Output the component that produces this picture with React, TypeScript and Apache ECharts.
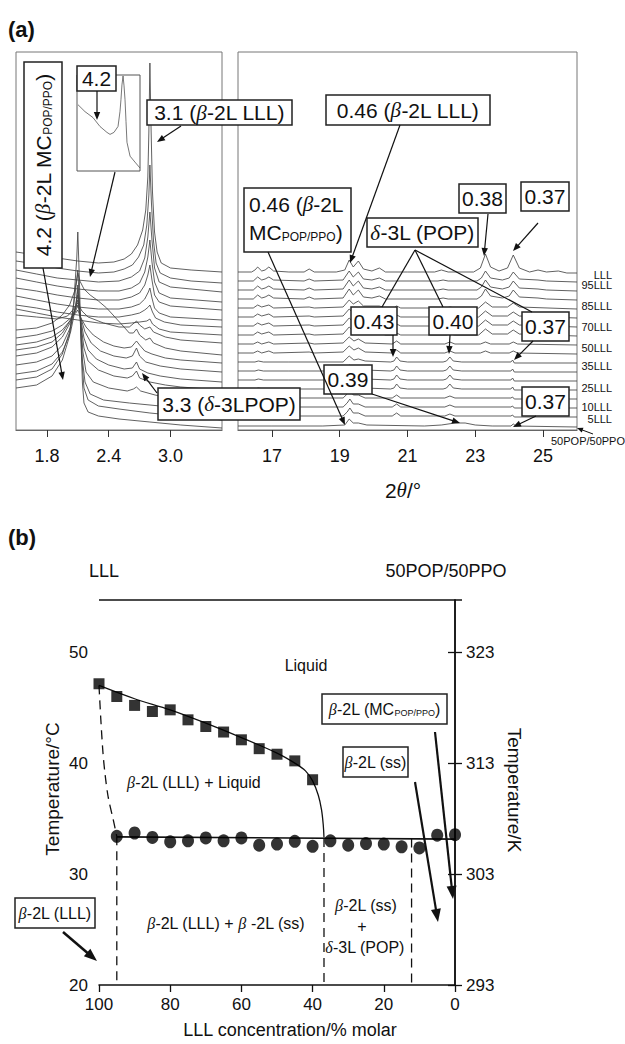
import React, { useEffect, useRef } from "react";
import * as echarts from "echarts";

// ================= Panel (a) data =================
const saxsTicks = [1.8, 2.4, 3.0];
const waxsTicks = [17, 19, 21, 23, 25];
const traceNames = ["LLL", "95LLL", "85LLL", "70LLL", "50LLL", "35LLL", "25LLL", "10LLL", "5LLL"];
const traceNameY = [275, 285, 306, 327, 348, 366, 388, 407, 419];

// SAXS traces (2θ, intensity above own baseline), stacked by offsets
const saxsOffsets = [158, 147, 138, 128, 120, 110, 103, 95, 87, 75, 67, 58, 48, 40, 28, 18, 10, 2];
const saxsT0 = [[1.5,20],[1.7,17],[1.9,14],[2.1,11],[2.3,9],[2.45,10],[2.55,13],[2.62,18],[2.68,27],[2.73,42],[2.76,62],[2.78,95],[2.79,140],[2.8,209],[2.81,150],[2.825,80],[2.845,40],[2.87,20],[2.91,9],[3.0,4],[3.2,2],[3.5,0]];
const saxsT1 = [[1.5,22],[1.7,19],[1.9,15],[2.1,12],[2.3,10],[2.45,11],[2.55,14],[2.63,18],[2.69,26],[2.74,38],[2.77,58],[2.79,88],[2.8,118],[2.815,80],[2.835,42],[2.86,20],[2.9,10],[3.0,5],[3.2,2],[3.5,0]];
const saxsT2 = [[1.5,22],[1.7,18],[1.9,14],[2.1,12],[2.3,10],[2.5,11],[2.62,15],[2.7,21],[2.75,34],[2.78,55],[2.8,80],[2.82,52],[2.845,24],[2.89,10],[3.0,5],[3.5,0]];
const saxsT3 = [[1.5,24],[1.7,20],[1.9,16],[2.1,13],[2.3,11],[2.5,11],[2.62,14],[2.7,19],[2.75,30],[2.78,45],[2.8,62],[2.82,40],[2.845,20],[2.89,9],[3.0,4],[3.5,0]];
const saxsT4 = [[1.5,22],[1.7,19],[1.9,15],[2.1,12],[2.3,10],[2.5,10],[2.62,13],[2.7,17],[2.75,25],[2.78,35],[2.8,45],[2.82,30],[2.845,15],[2.89,8],[3.0,4],[3.5,0]];
const saxsT5 = [[1.5,24],[1.7,20],[1.9,16],[2.1,13],[2.3,11],[2.5,11],[2.62,13],[2.7,16],[2.75,21],[2.785,28],[2.8,32],[2.82,22],[2.845,12],[2.89,7],[3.0,3],[3.5,0]];
const saxsT6 = [[1.5,22],[1.7,19],[1.9,15],[2.1,12],[2.3,10],[2.5,10],[2.62,12],[2.7,14],[2.75,17],[2.785,20],[2.8,22],[2.825,15],[2.855,9],[2.94,5],[3.1,2],[3.5,0]];
const saxsT7 = [[1.5,26],[1.7,22],[1.9,18],[2.1,15],[2.3,12],[2.5,11],[2.62,12],[2.7,13],[2.77,14],[2.8,16],[2.825,11],[2.89,6],[3.0,3],[3.5,0]];
const saxsT8 = [[1.5,28],[1.7,26],[1.9,24],[2.0,27],[2.06,34],[2.1,40],[2.14,32],[2.2,26],[2.35,20],[2.5,16],[2.6,16],[2.67,22],[2.7,18],[2.75,14],[2.8,16],[2.835,11],[2.95,6],[3.1,3],[3.5,0]];
const saxsT9 = [[1.5,25],[1.7,27],[1.85,32],[1.95,40],[2.02,50],[2.07,64],[2.1,82],[2.12,74],[2.16,66],[2.22,60],[2.3,54],[2.38,47],[2.46,38],[2.54,29],[2.6,22],[2.64,22],[2.67,26],[2.7,20],[2.76,15],[2.8,17],[2.835,12],[2.95,7],[3.1,4],[3.5,0]];
const saxsT10 = [[1.5,25],[1.7,28],[1.85,32],[1.95,38],[2.03,45],[2.08,50],[2.1,53],[2.13,45],[2.18,36],[2.25,28],[2.35,21],[2.45,17],[2.55,15],[2.62,16],[2.67,22],[2.7,18],[2.75,12],[2.82,9],[2.95,5],[3.1,3],[3.5,0]];
const saxsT11 = [[1.5,27],[1.7,30],[1.85,35],[1.95,42],[2.03,52],[2.08,61],[2.1,67],[2.13,54],[2.17,40],[2.23,29],[2.32,21],[2.45,16],[2.57,14],[2.63,16],[2.67,24],[2.7,16],[2.76,10],[2.9,6],[3.1,3],[3.5,0]];
const saxsT12 = [[1.5,32],[1.7,35],[1.85,40],[1.95,49],[2.03,62],[2.08,74],[2.1,82],[2.13,62],[2.16,44],[2.2,32],[2.28,23],[2.4,17],[2.55,13],[2.63,14],[2.67,20],[2.7,13],[2.78,9],[2.9,6],[3.1,3],[3.5,0]];
const saxsT13 = [[1.5,34],[1.7,37],[1.85,43],[1.95,53],[2.03,68],[2.08,84],[2.1,95],[2.13,66],[2.16,42],[2.2,29],[2.3,20],[2.45,14],[2.58,12],[2.63,14],[2.67,19],[2.7,12],[2.8,8],[2.95,5],[3.1,3],[3.5,0]];
const saxsT14 = [[1.5,37],[1.7,40],[1.85,46],[1.95,57],[2.03,75],[2.08,96],[2.1,112],[2.125,84],[2.15,50],[2.18,30],[2.25,20],[2.4,14],[2.58,11],[2.64,13],[2.67,15],[2.71,11],[2.85,7],[3.0,4],[3.5,0]];
const saxsT15 = [[1.5,38],[1.7,41],[1.85,48],[1.95,60],[2.03,80],[2.08,105],[2.1,127],[2.125,92],[2.145,52],[2.17,30],[2.22,18],[2.35,12],[2.6,9],[2.9,6],[3.2,3],[3.5,0]];
const saxsT16 = [[1.5,40],[1.7,43],[1.85,51],[1.95,66],[2.02,88],[2.06,115],[2.09,140],[2.1,150],[2.12,110],[2.14,60],[2.16,32],[2.2,20],[2.3,14],[2.5,11],[2.8,7],[3.1,4],[3.5,0]];
const saxsT17 = [[1.5,40],[1.7,43],[1.85,52],[1.95,68],[2.02,92],[2.06,125],[2.09,170],[2.1,196],[2.115,150],[2.13,90],[2.145,45],[2.16,25],[2.2,16],[2.3,12],[2.5,9],[2.8,6],[3.1,3],[3.5,0]];
const saxsTraces = [saxsT0, saxsT1, saxsT2, saxsT3, saxsT4, saxsT5, saxsT6, saxsT7, saxsT8, saxsT9, saxsT10, saxsT11, saxsT12, saxsT13, saxsT14, saxsT15, saxsT16, saxsT17];

// inset (enlarged 4.2 nm region)
const insetTrace = [[1.757,67],[1.807,60],[1.864,54],[1.914,45],[1.964,39],[1.986,37],[2.014,39],[2.043,45],[2.057,60],[2.064,72],[2.071,87],[2.079,96],[2.086,86],[2.093,72],[2.1,50],[2.107,29],[2.129,15],[2.164,9],[2.2,3]];

// WAXS traces
const waxsOffsets = [156, 147, 138, 129, 120, 111, 102, 93, 84, 75, 66, 57, 48, 39, 30, 21, 12, 3];
const waxsA = [[16,2],[16.4,2],[16.5,4],[16.58,7],[16.7,3],[16.8,4],[16.91,7],[17.05,3],[17.5,2],[17.95,2],[18.1,5],[18.25,2],[18.9,2],[19.15,4],[19.28,14],[19.4,7],[19.55,13],[19.7,5],[19.95,3],[20.17,6],[20.35,2],[21.0,2],[21.8,2],[22.0,4],[22.2,2],[22.95,2],[23.15,6],[23.3,20],[23.45,7],[23.7,3],[23.95,6],[24.12,19],[24.3,6],[24.6,2],[24.85,4],[25.1,2],[25.45,3],[25.7,1],[26,1]];
const waxsB = [[16,2],[16.45,2],[16.58,6],[16.7,3],[16.8,4],[16.91,6],[17.05,3],[17.95,2],[18.1,4],[18.25,2],[19.1,3],[19.28,12],[19.4,6],[19.55,11],[19.7,4],[19.95,3],[20.17,5],[20.35,2],[21.9,2],[22.05,3],[22.2,2],[23.05,2],[23.18,5],[23.3,12],[23.45,5],[23.8,3],[24.0,5],[24.12,11],[24.3,4],[24.85,3],[25.1,2],[26,1]];
const waxsC = [[16,2],[16.45,2],[16.58,5],[16.7,3],[16.91,5],[17.05,2],[18.1,3],[18.25,2],[19.1,3],[19.28,10],[19.4,6],[19.55,9],[19.7,4],[20.17,4],[20.35,2],[20.6,2],[20.68,4],[20.8,2],[22.15,2],[22.25,3],[22.4,2],[23.1,2],[23.3,8],[23.5,3],[23.95,3],[24.12,7],[24.3,3],[26,1]];
const waxsD = [[16,2],[16.45,2],[16.58,4],[16.7,2],[16.91,4],[17.05,2],[18.1,3],[18.25,2],[19.1,3],[19.28,9],[19.42,5],[19.55,7],[19.75,3],[20.55,2],[20.68,5],[20.8,2],[22.1,2],[22.25,4],[22.4,2],[23.15,2],[23.3,4],[23.45,2],[24.0,2],[24.12,4],[24.25,2],[26,1]];
const waxsE = [[16,2],[16.5,2],[16.6,3],[16.75,2],[17.5,2],[19.1,2],[19.28,8],[19.42,4],[19.55,5],[19.75,3],[20.5,2],[20.6,3],[20.68,7],[20.78,3],[21.0,2],[22.05,2],[22.15,3],[22.25,7],[22.35,3],[22.6,2],[24.05,2],[24.1,4],[24.15,1],[26,1]];
const waxsF = [[16,2],[17,2],[19.1,2],[19.22,6],[19.3,10],[19.4,5],[19.55,5],[19.75,2],[20.55,2],[20.68,5],[20.8,2],[22.1,2],[22.25,4],[22.4,2],[24.05,2],[24.1,3],[24.15,1],[26,1]];
const waxsG = [[16,1],[17,1],[18.5,1],[19.15,2],[19.28,8],[19.4,4],[19.55,4],[19.8,2],[21.5,1],[22.0,2],[22.4,4],[22.7,4],[23.0,2],[23.5,1],[24.05,1],[24.12,3],[24.2,1],[26,0]];
const waxsTraces = [waxsA, waxsB, waxsB, waxsB, waxsC, waxsC, waxsC, waxsC, waxsD, waxsD, waxsE, waxsE, waxsE, waxsE, waxsF, waxsF, waxsF, waxsG];

// ================= Panel (b) data =================
const concTicks = [0, 20, 40, 60, 80, 100];
const celsiusTicks = [20, 30, 40, 50];
const kelvinTicks = [293, 303, 313, 323];
const liquidusConc = [100, 95, 90, 85, 80, 75, 70, 65, 60, 55, 50, 45, 40];
const liquidusT = [47.15, 46.0, 45.2, 44.65, 44.8, 43.9, 43.3, 42.8, 42.1, 41.3, 40.8, 40.2, 38.5];
const solidusConc = [95, 90, 85, 80, 75, 70, 65, 60, 55, 50, 45, 40, 35, 30, 25, 20, 15, 10, 5, 0];
const solidusT = [33.4, 33.7, 33.3, 32.9, 33.0, 33.25, 33.0, 33.25, 32.6, 32.7, 32.95, 32.5, 33.0, 32.6, 32.75, 32.7, 32.45, 32.35, 33.5, 33.55];
const liquidusCurve = [[100,47.0],[90,45.8],[80,44.8],[70,43.6],[60,42.3],[50,40.9],[45,40.0],[42,39.3],[40,38.4],[38.4,37.1],[37.5,35.8],[37.0,34.4],[36.8,33.3]];
const solidusLine = [[95,33.35],[0,33.15]];
const leftBoundary = [[100,47.0],[99.5,44],[98.9,41],[98.3,39],[97.4,36.9],[96.0,34.9],[95,33.4]];
const invariantConc = [95, 36.8, 12.2];
const invariantTop = [33.4, 33.25, 33.2];

const F = "'Liberation Sans', Arial, Helvetica, sans-serif";
const GR = "'Liberation Serif', 'DejaVu Serif', serif";
const INK = "#111";

function rich(size: number) {
  return {
    g: { fontSize: size, fontFamily: GR, fontStyle: "italic", fill: INK },
    s: { fontSize: Math.round(size * 0.58), fontFamily: F, fill: INK, verticalAlign: "bottom" },
  };
}
function txt(x: number, y: number, text: string, size: number, o: any = {}) {
  return {
    type: "text", x, y, z: 120, rotation: o.rotation || 0,
    style: {
      text, fontSize: size, fontFamily: F, fill: INK,
      align: o.align || "center", verticalAlign: "middle",
      fontWeight: o.bold ? "bold" : "normal", rich: rich(size),
    },
  };
}
function box(x: number, y: number, w: number, h: number, lw = 1.5) {
  return { type: "rect", z: 110, shape: { x, y, width: w, height: h }, style: { fill: "#fff", stroke: "#222", lineWidth: lw } };
}
function seg(x1: number, y1: number, x2: number, y2: number, lw = 1.2) {
  return { type: "line", z: 112, shape: { x1, y1, x2, y2 }, style: { stroke: INK, lineWidth: lw } };
}
function arrow(x1: number, y1: number, x2: number, y2: number, lw = 1.2, hl = 8, hw = 3.2) {
  const a = Math.atan2(y2 - y1, x2 - x1);
  const c = Math.cos(a), s = Math.sin(a);
  const bx = x2 - hl * c, by = y2 - hl * s;
  return [
    seg(x1, y1, bx + 1 * c, by + 1 * s, lw),
    { type: "polygon", z: 112, shape: { points: [[x2, y2], [bx - hw * s, by + hw * c], [bx + hw * s, by - hw * c]] }, style: { fill: INK } },
  ];
}

export default function App() {
  const ref = useRef<HTMLDivElement>(null);
  useEffect(() => {
    if (!ref.current) return;
    const chart = echarts.init(ref.current, null, { renderer: "svg" });

    const traceStyle = { color: "#444", width: 0.85 };
    const saxsSeries = saxsTraces.map((tr, i) => ({
      type: "line", xAxisIndex: 0, yAxisIndex: 0, silent: true, symbol: "none", z: 3,
      lineStyle: traceStyle, data: tr.map(([x, v]) => [x, v + saxsOffsets[i]]),
    }));
    const waxsSeries = waxsTraces.map((tr, i) => ({
      type: "line", xAxisIndex: 1, yAxisIndex: 1, silent: true, symbol: "none", z: 3,
      lineStyle: traceStyle, data: tr.map(([x, v]) => [x, v + waxsOffsets[i]]),
    }));
    const invSeries = invariantConc.map((c, i) => ({
      type: "line", xAxisIndex: 3, yAxisIndex: 3, silent: true, symbol: "none",
      lineStyle: { color: INK, width: 1.3, type: [9, 6] }, data: [[c, invariantTop[i]], [c, 20]],
    }));

    const axA = (gridIndex: number, min: number, max: number, ticks: number[], dec: boolean) => ({
      type: "value", gridIndex, min, max,
      axisLine: { show: true, lineStyle: { color: "#666", width: 1.2 } },
      axisTick: { show: true, length: 7, customValues: ticks, lineStyle: { color: "#333" } },
      axisLabel: { customValues: ticks, margin: 17, fontSize: 18, color: INK, fontFamily: F, formatter: (v: number) => (dec ? v.toFixed(1) : String(v)) },
      splitLine: { show: false },
    });
    const hiddenY = (gridIndex: number, max: number) => ({ type: "value", gridIndex, min: 0, max, show: false, splitLine: { show: false } });
    const axB = { lineStyle: { color: INK, width: 1.5 } };

    const g: any[] = [];
    // ---- panel (a) annotations ----
    g.push(txt(8, 29, "(a)", 22, { align: "left", bold: true }));
    g.push(box(24, 62, 38, 206));
    g.push(txt(43, 165, "4.2 ({g|β}-2L MC{s|POP/PPO})", 21, { rotation: Math.PI / 2 }));
    g.push(...arrow(43, 268, 63, 380));
    g.push(box(77, 66, 39, 25));
    g.push(txt(96.5, 78.5, "4.2", 21));
    g.push(...arrow(97, 91, 97, 120));
    g.push(...arrow(115, 172, 90, 277));
    g.push(box(147, 100, 145, 25));
    g.push(txt(219.5, 112.5, "3.1 ({g|β}-2L LLL)", 21));
    g.push(...arrow(181, 126, 157, 142));
    g.push(box(158, 388, 142, 32));
    g.push(txt(229, 404, "3.3 ({g|δ}-3LPOP)", 21));
    g.push(...arrow(157, 393, 142, 373));

    g.push(box(326, 95, 164, 30));
    g.push(txt(408, 110, "0.46 ({g|β}-2L LLL)", 21));
    g.push(...arrow(400, 125, 350, 263));
    g.push(box(244, 188, 107, 64));
    g.push(txt(249, 204, "0.46 ({g|β}-2L", 21, { align: "left" }));
    g.push(txt(249, 232, "MC{s|POP/PPO})", 21, { align: "left" }));
    g.push(...arrow(268, 252, 345, 425));
    g.push(box(459, 184, 47, 29));
    g.push(txt(482.5, 198.5, "0.38", 21));
    g.push(...arrow(488, 214, 484, 256));
    g.push(box(521, 182, 48, 29));
    g.push(txt(545, 196.5, "0.37", 21));
    g.push(...arrow(538, 223, 513, 251));
    g.push(box(367, 218, 111, 29));
    g.push(txt(422.5, 232.5, "{g|δ}-3L (POP)", 21));
    g.push(seg(415, 250, 382, 307), seg(415, 250, 443, 307), seg(415, 250, 532, 312));
    g.push(box(351, 307, 46, 28));
    g.push(txt(374, 321, "0.43", 21));
    g.push(...arrow(393, 335, 393, 357));
    g.push(box(429, 307, 48, 28));
    g.push(txt(453, 321, "0.40", 21));
    g.push(...arrow(450, 335, 449, 354));
    g.push(box(522, 312, 47, 29));
    g.push(txt(545.5, 326.5, "0.37", 21));
    g.push(...arrow(533, 341, 514, 360));
    g.push(box(324, 365, 48, 29));
    g.push(txt(348, 379.5, "0.39", 21));
    g.push(...arrow(372, 394, 460, 423));
    g.push(box(522, 387, 47, 29));
    g.push(txt(545.5, 401.5, "0.37", 21));
    g.push(...arrow(536, 416, 513, 427));
    g.push(txt(403, 490, "2{g|θ}/°", 21));
    traceNames.forEach((n, i) => g.push(txt(612, traceNameY[i], n, 11, { align: "right" })));
    g.push(txt(588, 441, "50POP/50PPO", 11));
    g.push(...arrow(593, 434, 577, 428, 1, 6, 2.5));

    // ---- panel (b) annotations ----
    g.push(txt(8, 537, "(b)", 22, { align: "left", bold: true }));
    g.push(txt(104, 571, "LLL", 18));
    g.push(txt(446, 571, "50POP/50PPO", 18));
    g.push(seg(99, 600, 462, 600, 1.5));
    g.push(txt(306, 665, "Liquid", 16));
    g.push(txt(194, 782, "{g|β}-2L (LLL) + Liquid", 16));
    g.push(txt(226, 923, "{g|β}-2L (LLL) + {g|β} -2L (ss)", 16));
    g.push(txt(366, 905, "{g|β}-2L (ss)", 16));
    g.push(txt(362, 926, "+", 16));
    g.push(txt(365, 947, "{g|δ}-3L (POP)", 16));
    g.push(box(15, 898, 80, 30));
    g.push(txt(55, 913, "{g|β}-2L (LLL)", 16));
    g.push(...arrow(63, 932, 97, 961, 2.5, 13, 5));
    g.push(box(322, 694, 125, 30));
    g.push(txt(384.5, 709, "{g|β}-2L (MC{s|POP/PPO})", 16));
    g.push(...arrow(435, 732, 453, 899, 2.2, 13, 5));
    g.push(box(343, 747, 65, 30));
    g.push(txt(375.5, 762, "{g|β}-2L (ss)", 16));
    g.push(...arrow(415, 782, 438, 922, 2.2, 13, 5));
    g.push(txt(52, 789, "Temperature/°C", 19, { rotation: Math.PI / 2 }));
    g.push(txt(514, 790, "Temperature/K", 19, { rotation: -Math.PI / 2 }));
    g.push(txt(290, 1030, "LLL concentration/% molar", 18));

    const option: any = {
      animation: false,
      backgroundColor: "#fff",
      textStyle: { fontFamily: F },
      grid: [
        { left: 16, top: 52, width: 206, height: 378, show: true, borderColor: "#777", borderWidth: 1 },
        { left: 238, top: 52, width: 339, height: 378, show: true, borderColor: "#777", borderWidth: 1 },
        { left: 77, top: 75, width: 63, height: 96, show: true, borderColor: "#555", borderWidth: 1 },
        { left: 99, top: 600, width: 356, height: 385 },
      ],
      xAxis: [
        axA(0, 1.5, 3.5, saxsTicks, true),
        axA(1, 16, 26, waxsTicks, false),
        { type: "value", gridIndex: 2, min: 1.75, max: 2.2, show: false, splitLine: { show: false } },
        {
          type: "value", gridIndex: 3, min: 0, max: 100, interval: 20, inverse: true,
          axisLine: axB, axisTick: { length: 7, lineStyle: { color: INK, width: 1.3 } },
          axisLabel: { customValues: concTicks, fontSize: 17, color: INK, margin: 11, fontFamily: F },
          splitLine: { show: false },
        },
      ],
      yAxis: [
        hiddenY(0, 378),
        hiddenY(1, 378),
        hiddenY(2, 97),
        {
          type: "value", gridIndex: 3, min: 20, max: 54.7, position: "left",
          axisLine: { show: true, ...axB }, axisTick: { show: true, length: 7, customValues: celsiusTicks, lineStyle: { color: INK, width: 1.3 } },
          axisLabel: { customValues: celsiusTicks, fontSize: 17, color: INK, margin: 11, fontFamily: F },
          splitLine: { show: false },
        },
        {
          type: "value", gridIndex: 3, min: 293, max: 327.7, position: "right",
          axisLine: { show: true, ...axB }, axisTick: { show: true, length: 7, customValues: kelvinTicks, lineStyle: { color: INK, width: 1.3 } },
          axisLabel: { customValues: kelvinTicks, fontSize: 17, color: INK, margin: 11, fontFamily: F },
          splitLine: { show: false },
        },
      ],
      series: [
        ...saxsSeries,
        ...waxsSeries,
        { type: "line", xAxisIndex: 2, yAxisIndex: 2, silent: true, symbol: "none", lineStyle: { color: "#555", width: 0.8 }, data: insetTrace },
        { type: "line", xAxisIndex: 3, yAxisIndex: 3, silent: true, symbol: "none", smooth: 0.35, lineStyle: { color: INK, width: 1.3 }, data: liquidusCurve },
        { type: "line", xAxisIndex: 3, yAxisIndex: 3, silent: true, symbol: "none", lineStyle: { color: INK, width: 1.6 }, data: solidusLine },
        { type: "line", xAxisIndex: 3, yAxisIndex: 3, silent: true, symbol: "none", smooth: 0.3, lineStyle: { color: INK, width: 1.3, type: [9, 6] }, data: leftBoundary },
        ...invSeries,
        { type: "scatter", xAxisIndex: 3, yAxisIndex: 3, silent: true, symbol: "rect", symbolSize: 11, itemStyle: { color: "#000" }, z: 5, data: liquidusConc.map((c, i) => [c, liquidusT[i]]) },
        { type: "scatter", xAxisIndex: 3, yAxisIndex: 3, silent: true, symbol: "circle", symbolSize: [12, 13], itemStyle: { color: "#000" }, z: 5, data: solidusConc.map((c, i) => [c, solidusT[i]]) },
      ],
      graphic: { elements: g },
    };
    chart.setOption(option);
    return () => chart.dispose();
  }, []);
  return <div ref={ref} style={{ position: "fixed", left: 0, top: 0, width: 625, height: 1044, background: "#fff" }} />;
}
